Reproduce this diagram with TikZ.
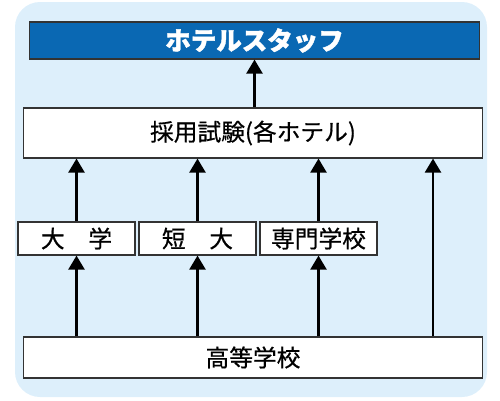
\documentclass[tikz,border=0pt]{standalone}
\usepackage{fontspec}
\setmainfont[FakeBold=1.5]{Noto Sans CJK JP}
\newfontfamily\medium[FakeBold=0.6]{Noto Sans CJK JP}
\usepackage{tikz}
\usetikzlibrary{arrows.meta,positioning}
\definecolor{bgblue}{HTML}{DDEFFB}
\definecolor{titleblue}{HTML}{0A68B3}
\definecolor{edgegray}{HTML}{333333}
\tikzset{
  box/.style={draw=edgegray, line width=0.6pt, fill=white, inner sep=0pt, font=\medium\fontsize{13.5}{15}\selectfont},
  up/.style={line width=1.6pt, -{Triangle[width=9pt,length=8pt]}}
}

\begin{document}
\begin{tikzpicture}[x=0.02cm, y=-0.02cm]
      \useasboundingbox (0,0) rectangle (500,400);
      \fill[bgblue, rounded corners=0.5cm] (15,2) rectangle (487,397); % background
      \node[box, fill=titleblue, text=white, minimum width=9.02cm, minimum height=0.74cm, font=\fontsize{14.5}{16}\selectfont\bfseries] (staff) at (254.5,40.5) {ホテルスタッフ}; % top
      \node[box, minimum width=9.2cm, minimum height=1.0cm] (exam) at (253,133) {採用試験(各ホテル)};
      \node[box, minimum width=2.34cm, minimum height=0.66cm] (univ) at (76.5,238.5) {大　学}; % left
      \node[box, minimum width=2.34cm, minimum height=0.66cm] (junior) at (197.5,238.5) {短　大};
      \node[box, minimum width=2.34cm, minimum height=0.66cm] (senmon) at (318.5,238.5) {専門学校}; % right
      \node[box, minimum width=9.2cm, minimum height=0.82cm] (high) at (253,357.5) {高等学校}; % bottom
      \draw[up] (exam.north -| staff) -- (staff.south);
      \foreach \s in {univ,junior,senmon} {
        \draw[up] (high.north -| \s) -- (\s.south);
        \draw[up] (\s.north) -- (exam.south -| \s);
      }
      \coordinate (direct) at (433,0);
      \draw[up] (high.north -| direct) -- (exam.south -| direct);
    \end{tikzpicture}
\end{document}
